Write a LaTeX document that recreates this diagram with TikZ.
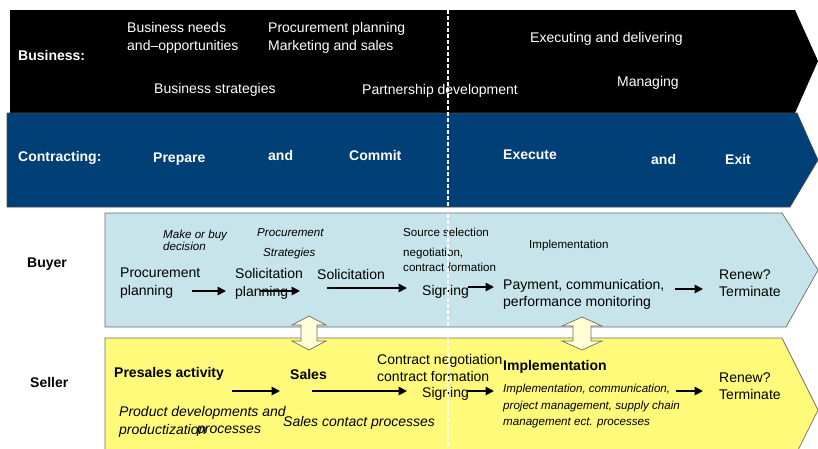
\documentclass[tikz,border=0pt]{standalone}
\usepackage{fontspec}
\setmainfont{Liberation Sans}
\usetikzlibrary{arrows.meta}
\definecolor{navy}{RGB}{0,64,118}
\definecolor{paleblue}{RGB}{198,228,233}
\definecolor{lemon}{RGB}{255,250,122}
\definecolor{cream}{RGB}{255,255,214}
\definecolor{edgegray}{RGB}{110,110,110}

\begin{document}
\begin{tikzpicture}[x=1pt,y=-1pt,
  lbl/.style={inner sep=0pt, anchor=west, align=left, yshift=-2pt, font=\fontsize{14}{18}\selectfont},
  wlbl/.style={lbl, text=white},
  wbold/.style={lbl, text=white, font=\fontsize{14}{18}\selectfont\bfseries},
  blbl/.style={lbl, font=\fontsize{14}{18}\selectfont\bfseries},
  ilbl/.style={lbl, font=\fontsize{14}{18}\selectfont\itshape},
  slbl/.style={lbl, font=\fontsize{11.6}{15}\selectfont},
  silbl/.style={lbl, font=\fontsize{11.6}{15}\selectfont\itshape},
  flow/.style={line width=1.7pt, -{Triangle[length=8.5pt,width=8.5pt]}},
  band/.style={draw=edgegray, line width=0.7pt},
  twoway/.style={fill=cream, draw=edgegray, line width=0.7pt}
]
\useasboundingbox (0,0) rectangle (818,448);
\clip (0,0) rectangle (818,448);
\fill[white] (0,0) rectangle (818,448);

% phase bands
\fill[black] (10,10) -- (795,10) -- (818,61) -- (795,113) -- (10,113) -- cycle;
\filldraw[fill=navy, draw=black!70, line width=0.7pt] (7,113) -- (797,113) -- (818,160) -- (790,207) -- (7,207) -- cycle;
\filldraw[band, fill=paleblue] (105,213) -- (782,213) -- (818,270) -- (786,327) -- (105,327) -- cycle;
\filldraw[band, fill=lemon] (105,338) -- (782,338) -- (818,410) -- (782,482) -- (105,482) -- cycle;

% buyer/seller interaction arrows
\filldraw[twoway] (309,316) -- (326,325) -- (317,325) -- (317,341) -- (326,341) -- (309,350)
  -- (292,341) -- (301,341) -- (301,325) -- (292,325) -- cycle;
\filldraw[twoway] (582,317) -- (602,326) -- (591,326) -- (591,341) -- (602,341) -- (582,350)
  -- (562,341) -- (573,341) -- (573,326) -- (562,326) -- cycle;

% business band
\node[wbold] (bus) at (18,53) {Business:};
\node[wlbl] (needs) at (127,36) {Business needs\\and–opportunities};
\node[wlbl] (procplan) at (268,36) {Procurement planning\\Marketing and sales};
\node[wlbl] (bstrat) at (154,88) {Business strategies};
\node[wlbl] (partner) at (362,89) {Partnership development};
\node[wlbl] (execdel) at (530,37) {Executing and delivering};
\node[wlbl] (manag) at (617,81) {Managing};

% contracting band
\node[wbold] (contr) at (18,156) {Contracting:};
\node[wbold] (prep) at (153,157) {Prepare};
\node[wbold] (and1) at (268,153) {and};
\node[wbold] (commit) at (349,153) {Commit};
\node[wbold] (execute) at (503,153) {Execute};
\node[wbold] (and2) at (651,157) {and};
\node[wbold] (exit) at (725,157) {Exit};

% row labels
\node[blbl] (buyer) at (27,262) {Buyer};
\node[blbl] (seller) at (30,380) {Seller};

% buyer lane
\node[silbl, font=\fontsize{11.6}{12}\selectfont\itshape] (mob) at (163,238) {Make or buy\\decision};
\node[silbl] (pstr1) at (257,231) {Procurement};
\node[silbl] (pstr2) at (263,251) {Strategies};
\node[slbl] (srcsel) at (403,230) {Source selection};
\node[slbl] (negot) at (403,257.5) {negotiation,\\contract formation};
\node[slbl] (implb) at (529,243) {Implementation};
\node[lbl] (ppl) at (120,281) {Procurement\\planning};
\node[lbl] (spl) at (235,282) {Solicitation\\planning};
\node[lbl] (sol) at (317,272) {Solicitation};
\node[lbl] (sign) at (422,290) {Signing};
\node[lbl, font=\fontsize{14}{17}\selectfont] (pay) at (503,292.5) {Payment, communication,\\performance monitoring};
\node[lbl, font=\fontsize{14}{17}\selectfont] (renewb) at (719,281.5) {Renew?\\Terminate};

% seller lane
\node[blbl] (pres) at (114,372) {Presales activity};
\node[blbl] (sales) at (290,372) {Sales};
\node[lbl, font=\fontsize{14}{17}\selectfont] (cneg) at (377,365.5) {Contract negotiation\\contract formation};
\node[lbl] (ssign) at (422,392) {Signing};
\node[blbl] (impls) at (503,365) {Implementation};
\node[silbl, font=\fontsize{11.6}{16.5}\selectfont\itshape] (implit) at (503,404) {Implementation, communication,\\project management, supply chain\\management ect. processes};
\node[lbl, font=\fontsize{14}{17}\selectfont] (renews) at (719,384.5) {Renew?\\Terminate};
\node[ilbl] (proddev) at (119,411) {Product developments and};
\node[ilbl] (prodz) at (119,429) {productization};
\node[ilbl] (procs) at (197,429) {processes};
\node[ilbl] (scp) at (283,421) {Sales contact processes};

% flow arrow end points
\coordinate (b1s) at (192,291); \coordinate (b1e) at (226,291);
\coordinate (b2s) at (260,291); \coordinate (b2e) at (300,291);
\coordinate (b3s) at (327,288); \coordinate (b3e) at (407,288);
\coordinate (b4s) at (468,287); \coordinate (b4e) at (494,287);
\coordinate (b5s) at (675,289); \coordinate (b5e) at (703,289);
\coordinate (s1s) at (232,391); \coordinate (s1e) at (280,391);
\coordinate (s2s) at (312,391); \coordinate (s2e) at (407,391);
\coordinate (s3s) at (468,391); \coordinate (s3e) at (494,391);
\coordinate (s4s) at (676,391); \coordinate (s4e) at (703,391);

\foreach \a in {b1,b2,b3,b4,b5,s1,s2,s3,s4}
  \draw[flow] (\a s) -- (\a e);

% divider between commit and execute phases
\coordinate (dtop) at (448,10);
\coordinate (dbot) at (448,448);
\draw[white, line width=2pt, dash pattern=on 4pt off 2pt] (dtop) -- (dbot);
\end{tikzpicture}
\end{document}
